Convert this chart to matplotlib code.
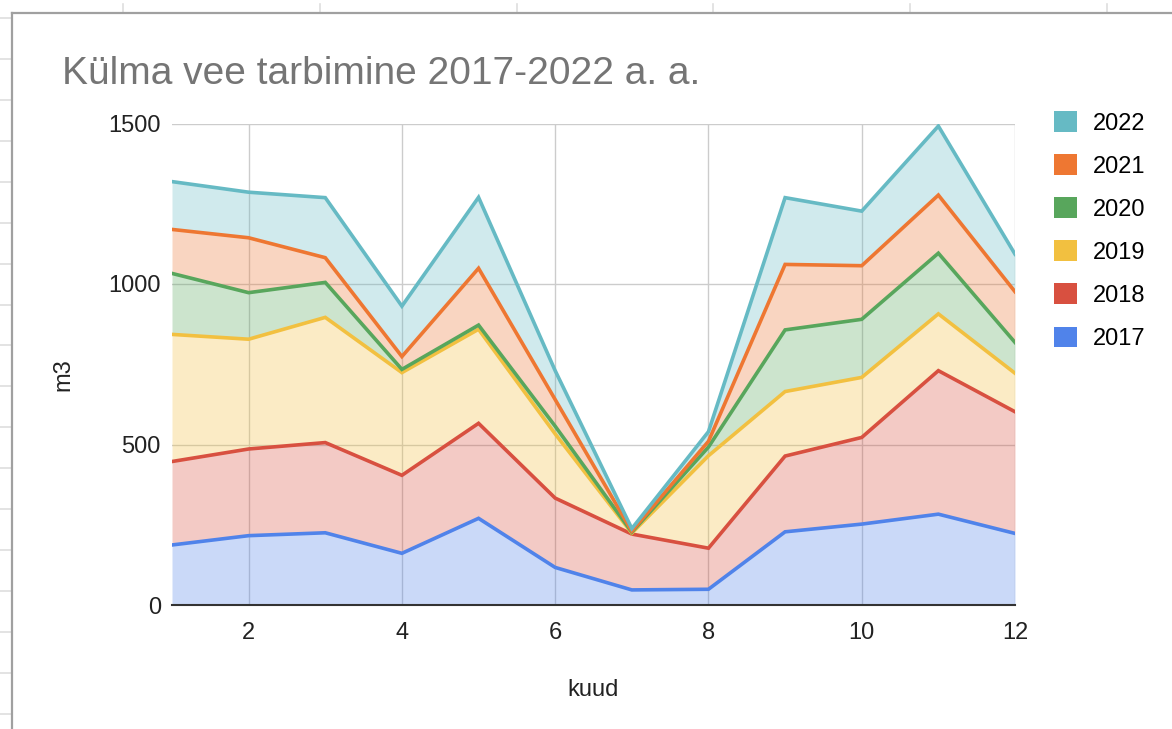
import matplotlib.pyplot as plt
from matplotlib.lines import Line2D
from matplotlib.patches import Patch
import numpy as np

plt.rcParams['font.family'] = ['Liberation Sans', 'DejaVu Sans']

# kuud (months)
months = list(range(1, 13))

# külma vee tarbimine, m3 per kuu
y2017 = [187, 216, 225, 161, 270, 117, 47, 49, 228, 252, 283, 223]
y2018 = [260, 270, 281, 243, 296, 216, 174, 128, 236, 270, 447, 379]
y2019 = [396, 342, 390, 320, 293, 200, 3, 288, 201, 187, 177, 120]
y2020 = [190, 145, 109, 10, 13, 24, 3, 27, 192, 181, 189, 96]
y2021 = [137, 171, 77, 40, 177, 83, 3, 18, 204, 167, 181, 158]
y2022 = [149, 142, 187, 157, 221, 90, 8, 30, 208, 170, 215, 117]

years = ['2017', '2018', '2019', '2020', '2021', '2022']
colors = ['#5083ea', '#d85040', '#f2c040', '#58a65c', '#ee7732', '#66bac4']
x_ticks = [2, 4, 6, 8, 10, 12]
y_ticks = [0, 500, 1000, 1500]

W, H = 1172, 729
fig = plt.figure(figsize=(W / 100, H / 100), dpi=100)


def px(x, y):
    return x / W, 1 - y / H


# spreadsheet cells behind the chart
for gx in [123.3, 320, 516.7, 713.3, 910, 1106.7]:
    (x0, y0), (x1, y1) = px(gx, 4), px(gx, 13)
    fig.add_artist(Line2D([x0, x1], [y0, y1], color='#dedede', lw=1.2))
for k in range(18):
    gy = 18.3 + 40.9 * k
    (x0, y0), (x1, y1) = px(0, gy), px(12, gy)
    fig.add_artist(Line2D([x0, x1], [y0, y1], color='#dedede', lw=1.2))
# chart frame
(x0, y0), (x1, y1) = px(12.3, 12.7), px(W, 12.7)
fig.add_artist(Line2D([x0, x1], [y0, y1], color='#a0a0a0', lw=1.6))
(x0, y0), (x1, y1) = px(12.3, 12.7), px(12.3, H)
fig.add_artist(Line2D([x0, x1], [y0, y1], color='#a0a0a0', lw=1.6))

ax = fig.add_axes([172 / W, 1 - 605 / H, (1015 - 172) / W, (605 - 123.5) / H])

data = np.array([y2017, y2018, y2019, y2020, y2021, y2022], dtype=float)
tops = np.cumsum(data, axis=0)
bottom = np.zeros(len(months))
for i in range(len(years)):
    ax.fill_between(months, bottom, tops[i], color=colors[i], alpha=0.3, lw=0, zorder=2)
    bottom = tops[i]
for i in range(len(years)):
    ax.plot(months, tops[i], color=colors[i], lw=2.6, zorder=3 + i, solid_joinstyle='miter')

ax.set_xlim(1, 12)
ax.set_ylim(0, 1500)
ax.set_xticks(x_ticks)
ax.set_yticks(y_ticks)
ax.grid(True, color='#cccccc', lw=1.0, zorder=0)
ax.set_axisbelow(True)
ax.tick_params(length=0, labelsize=17, colors='#222222')
ax.tick_params(axis='y', pad=8)
ax.tick_params(axis='x', pad=12)
for s in ['top', 'left', 'right']:
    ax.spines[s].set_visible(False)
ax.spines['bottom'].set_color('#333333')
ax.spines['bottom'].set_linewidth(1.5)
ax.spines['bottom'].set_zorder(10)

ax.set_xlabel('kuud', fontsize=17, color='#222222')
ax.set_ylabel('m3', fontsize=17, color='#222222')
ax.xaxis.set_label_coords(0.5, -0.153)
ax.yaxis.set_label_coords(-0.116, 0.478)

tx, ty = px(62, 84)
fig.text(tx, ty, 'Külma vee tarbimine 2017-2022 a. a.', fontsize=28, color='#757575',
         va='baseline', ha='left')

handles = [Patch(facecolor=c, edgecolor='none') for c in colors][::-1]
lx, ly = px(1054, 111)
fig.legend(handles, years[::-1], loc='upper left', bbox_to_anchor=(lx, ly), frameon=False,
           fontsize=17, handlelength=0.98, handleheight=0.98, handletextpad=0.68,
           labelspacing=0.83, borderaxespad=0, borderpad=0)

fig.savefig('out.png', dpi=100)
